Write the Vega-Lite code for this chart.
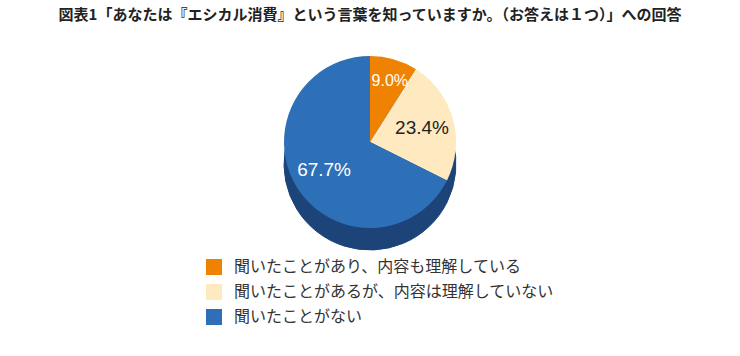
{
  "$schema": "https://vega.github.io/schema/vega-lite/v6.json",
  "width": 740,
  "height": 210,
  "padding": {"top": 8, "left": 0, "right": 0, "bottom": 40},
  "autosize": {"type": "pad"},
  "background": "white",
  "title": {
    "text": "図表1「あなたは『エシカル消費』という言葉を知っていますか。（お答えは１つ）」への回答",
    "fontSize": 15,
    "fontWeight": "bold",
    "font": "Noto Sans CJK JP",
    "color": "#222222",
    "anchor": "middle",
    "offset": 14
  },
  "data": {
    "values": [
      {"category": "聞いたことがあり、内容も理解している", "value": 9.0, "label": "9.0%", "order": 1},
      {"category": "聞いたことがあるが、内容は理解していない", "value": 23.4, "label": "23.4%", "order": 2},
      {"category": "聞いたことがない", "value": 67.7, "label": "67.7%", "order": 3}
    ]
  },
  "encoding": {
    "theta": {"field": "value", "type": "quantitative", "stack": true},
    "order": {"field": "order", "type": "quantitative"}
  },
  "layer": [
    {
      "mark": {"type": "arc", "radius": 86, "yOffset": 22, "fill": "#1C4479", "stroke": "#1C4479", "strokeWidth": 1}
    },
    {
      "mark": {"type": "arc", "radius": 86, "stroke": null},
      "encoding": {
        "color": {
          "field": "category",
          "type": "nominal",
          "sort": null,
          "scale": {
            "domain": ["聞いたことがあり、内容も理解している", "聞いたことがあるが、内容は理解していない", "聞いたことがない"],
            "range": ["#EF8200", "#FEE9C0", "#2E70B7"]
          },
          "legend": {
            "title": null,
            "orient": "none",
            "legendX": 206,
            "legendY": 222,
            "symbolType": "square",
            "symbolSize": 256,
            "symbolStrokeWidth": 0,
            "labelFont": "Noto Sans CJK JP",
            "labelFontSize": 16,
            "labelColor": "#333333",
            "labelOffset": 12,
            "labelLimit": 500,
            "rowPadding": 9
          }
        }
      }
    },
    {
      "mark": {"type": "text", "radius": 54, "font": "Liberation Sans", "fontSize": 19},
      "encoding": {
        "text": {"condition": {"test": "datum.order === 1", "value": ""}, "field": "label", "type": "nominal"},
        "color": {
          "condition": {"test": "datum.order === 2", "value": "#222222"},
          "value": "#ffffff"
        }
      }
    },
    {
      "mark": {"type": "text", "radius": 64, "dx": 2, "font": "Liberation Sans", "fontSize": 16, "color": "#ffffff"},
      "encoding": {
        "text": {"condition": {"test": "datum.order !== 1", "value": ""}, "field": "label", "type": "nominal"}
      }
    }
  ],
  "config": {"view": {"stroke": null}}
}
